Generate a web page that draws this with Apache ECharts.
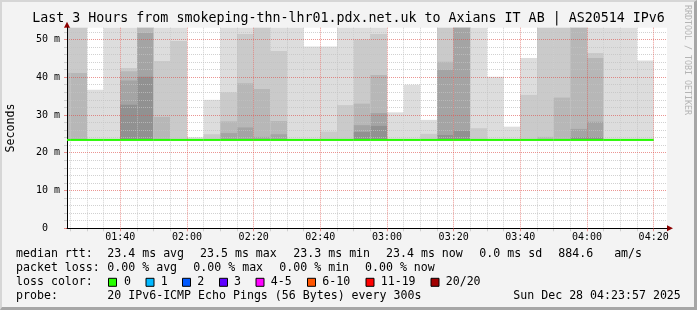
<!DOCTYPE html>
<html>
<head>
<meta charset="utf-8">
<script src="https://cdn.jsdelivr.net/npm/echarts@6/dist/echarts.min.js"></script>
<style>
html,body{margin:0;padding:0;background:#f3f3f3;}
#wrap{position:relative;width:697px;height:310px;}
#c{position:absolute;left:0;top:0;width:697px;height:310px;}
#frame{position:absolute;left:0;top:0;width:697px;height:310px;box-sizing:border-box;
  border-top:2px solid #d6d6d6;border-left:2px solid #d6d6d6;border-right:3px solid #a6a6a6;border-bottom:3px solid #a6a6a6;pointer-events:none;}
</style>
</head>
<body>
<div id="wrap"><div id="c"></div><div id="frame"></div></div>
<script>
// ---------------- data ----------------
const TITLE = 'Last 3 Hours from smokeping-thn-lhr01.pdx.net.uk to Axians IT AB | AS20514 IPv6';
const axisStart = '01:24';
const axisEnd = '04:24';
const yMax = 53.1;
const stepMinutes = 5;

// end time of each 5-minute slot
const slotEnd = ['01:25','01:30','01:35','01:40','01:45','01:50','01:55','02:00','02:05','02:10','02:15','02:20',
  '02:25','02:30','02:35','02:40','02:45','02:50','02:55','03:00','03:05','03:10','03:15','03:20',
  '03:25','03:30','03:35','03:40','03:45','03:50','03:55','04:00','04:05','04:10','04:15','04:20'];
// median rtt (ms)
const median = [23.4,23.4,23.4,23.4,23.4,23.4,23.4,23.4,23.4,23.4,23.4,23.4,
  23.4,23.4,23.4,23.4,23.4,23.4,23.4,23.4,23.4,23.4,23.4,23.4,
  23.4,23.4,23.4,23.4,23.4,23.4,23.4,23.4,23.4,23.4,23.4,23.4];
// lowest ping (ms)
const pingLow = [23.3,23.3,23.3,23.3,23.3,23.3,23.3,23.3,23.3,23.3,23.3,23.3,
  23.3,23.3,23.3,23.3,23.3,23.3,23.3,23.3,23.3,23.3,23.3,23.3,
  23.3,23.3,23.3,23.3,23.3,23.3,23.3,23.3,23.3,23.3,23.3,23.3];
// sorted pings: 20th (max), 19th, 18th, 17th, 16th  (ms); values above the plot are off-scale
const ping20 = [60,60,36.7,60,60,60,60,60,24.1,34.0,60,60,
  60,60,60,48.1,48.1,60,60,60,30.7,38.0,28.7,60,
  60,60,40.1,26.9,45.1,60,60,60,60,60,60,44.4];
const ping19 = [60,60,23.4,23.4,42.4,60,44.3,49.6,23.4,24.9,36.0,51.4,
  60,46.9,23.4,23.4,25.6,32.6,50.0,51.4,23.4,23.4,25.0,60,
  60,26.5,23.4,23.4,35.3,60,60,60,46.4,23.4,23.4,23.4];
const ping18 = [41.1,41.1,23.4,23.4,41.6,60,29.5,23.4,23.4,23.4,28.3,38.4,
  36.9,28.4,23.4,23.4,23.4,23.4,33.0,40.6,23.4,23.4,23.4,44.1,
  60,23.4,23.4,23.4,23.4,24.2,34.6,60,45.1,23.4,23.4,23.4];
const ping17 = [23.4,23.4,23.4,23.4,39.1,51.7,23.4,23.4,23.4,23.4,25.2,26.7,
  24.2,24.9,23.4,23.4,23.4,23.4,27.3,30.5,23.4,23.4,23.4,42.0,
  60,23.4,23.4,23.4,23.4,23.4,23.4,26.3,28.2,23.4,23.4,23.4];
const ping16 = [23.4,23.4,23.4,23.4,32.7,40.1,23.4,23.4,23.4,23.4,23.4,23.4,
  23.4,23.4,23.4,23.4,23.4,23.4,25.5,27.1,23.4,23.4,23.4,24.7,
  25.8,23.4,23.4,23.4,23.4,23.4,23.4,24.1,24.1,23.4,23.4,23.4];

const xTickEvery = 20;     // labelled / major grid minutes
const xMinorEvery = 5;     // minor grid minutes
const yTickLabels = {0: '0  ', 10: '10 m', 20: '20 m', 30: '30 m', 40: '40 m', 50: '50 m'};

const legendRows = [
  [['median rtt:', 16], ['23.4 ms avg', 107.3], ['23.5 ms max', 200], ['23.3 ms min', 293.3], ['23.4 ms now', 386], ['0.0 ms sd', 479.3], ['884.6   am/s', 558.3]],
  [['packet loss:', 16], ['0.00 % avg', 107.3], ['0.00 % max', 193.3], ['0.00 % min', 279.3], ['0.00 % now', 365]],
  [['loss color:', 16]],
  [['probe:', 16], ['20 IPv6-ICMP Echo Pings (56 Bytes) every 300s', 107.3], ['Sun Dec 28 04:23:57 2025', 513.3]]
];
const lossLabels = ['0', '1', '2', '3', '4-5', '6-10', '11-19', '20/20'];
const lossColors = ['#26ff00', '#00b8ff', '#0059ff', '#5e00ff', '#ff00ff', '#ff5500', '#ff0000', '#a10000'];

// ---------------- styling ----------------
const MONO = 'DejaVu Sans Mono';
const GRID_C = 'rgba(193,193,193,0.75)';
const MGRID_C = 'rgba(222,79,74,0.6)';
const ARROW_C = '#8b0000';
const bandColors = ['#dddddd', '#cacaca', '#b7b7b7', '#a4a4a4', '#919191'];
const legendX = {boxes: [108.5, 146, 182.5, 219.5, 256, 307.5, 366, 431], labels: [124, 160.7, 197.3, 234, 270.7, 322.3, 380.7, 445.7]};
const legendY = [254.3, 267.7, 282.3, 295.7];

// ---------------- build ----------------
function toMin(s) { const p = s.split(':'); return (+p[0]) * 60 + (+p[1]); }
function fmt(m) { const h = Math.floor(m / 60), mm = m % 60; return (h < 10 ? '0' : '') + h + ':' + (mm < 10 ? '0' : '') + mm; }
const m0 = toMin(axisStart), m1 = toMin(axisEnd);
const cats = [];
for (let m = m0; m <= m1; m++) cats.push(fmt(m));
const isMajor = (i) => (m0 + i) % xTickEvery === 0;
const isMinor = (i) => (m0 + i) % xMinorEvery === 0 && (m0 + i) % xTickEvery !== 0;

const smokeData = slotEnd.map((e, i) => {
  const end = toMin(e) - m0;
  return [end - stepMinutes, end, pingLow[i], ping20[i], ping19[i], ping18[i], ping17[i], ping16[i]];
});
const medianData = slotEnd.map((e, i) => {
  const end = toMin(e) - m0;
  return [end - stepMinutes, end, median[i]];
});

function renderSmoke(params, api) {
  const cs = params.coordSys;
  const x0 = api.value(0), x1 = api.value(1), low = api.value(2);
  const children = [];
  for (let k = 0; k < 5; k++) {
    const top = api.value(3 + k);
    const a = api.coord([x0, low]);
    const b = api.coord([x1, top]);
    const r = echarts.graphic.clipRectByRect(
      {x: a[0], y: b[1], width: b[0] - a[0], height: a[1] - b[1]},
      {x: cs.x, y: cs.y, width: cs.width, height: cs.height});
    if (r && r.height > 0 && r.width > 0) children.push({type: 'rect', shape: r, style: {fill: bandColors[k]}});
  }
  return {type: 'group', children};
}
function renderMedian(params, api) {
  const cs = params.coordSys;
  const a = api.coord([api.value(0), api.value(2)]);
  const b = api.coord([api.value(1), api.value(2)]);
  const xa = Math.max(a[0], cs.x), xb = Math.min(b[0], cs.x + cs.width);
  return {type: 'line', shape: {x1: xa, y1: a[1], x2: xb, y2: b[1]}, style: {stroke: lossColors[0], lineWidth: 2}};
}

const graphics = [];
legendRows.forEach((row, r) => {
  row.forEach(([t, x]) => graphics.push({type: 'text', x: x, y: legendY[r],
    style: {text: t, fontFamily: MONO, fontSize: 11.6, fill: '#000', verticalAlign: 'middle'}}));
});
lossLabels.forEach((t, i) => {
  graphics.push({type: 'rect', shape: {x: legendX.boxes[i], y: legendY[2] - 4, width: 8, height: 8},
    style: {fill: lossColors[i], stroke: '#000', lineWidth: 1}});
  graphics.push({type: 'text', x: legendX.labels[i], y: legendY[2],
    style: {text: t, fontFamily: MONO, fontSize: 11.6, fill: '#000', verticalAlign: 'middle'}});
});
graphics.push({type: 'text', x: 687.5, y: 60, rotation: -Math.PI / 2,
  style: {text: 'RRDTOOL / TOBI OETIKER', fontFamily: MONO, fontSize: 8.3, fill: '#b4b4b4', align: 'center', verticalAlign: 'middle'}});

const chart = echarts.init(document.getElementById('c'), null, {renderer: 'canvas'});
chart.setOption({
  backgroundColor: '#f3f3f3',
  animation: false,
  title: {text: TITLE, left: 'center', top: 12, padding: 0,
    textStyle: {fontFamily: MONO, fontSize: 13.3, fontWeight: 'normal', color: '#000'}},
  grid: {left: 67, right: 30, top: 27.7, bottom: 81.7, show: true, backgroundColor: '#ffffff', borderWidth: 0,
    containLabel: false, outerBoundsMode: 'none'},
  xAxis: [
    {type: 'category', data: cats, boundaryGap: false, position: 'bottom', z: 5,
      axisLine: {show: true, onZero: false, lineStyle: {color: '#000', width: 1}},
      axisTick: {show: true, interval: isMajor, length: 3, lineStyle: {color: MGRID_C}},
      axisLabel: {show: true, interval: isMajor, margin: 4, fontFamily: MONO, fontSize: 10, color: '#000'},
      splitLine: {show: true, interval: isMajor, lineStyle: {color: MGRID_C, width: 1, type: [1, 1]}}},
    {type: 'category', data: cats, boundaryGap: false, position: 'bottom', z: 4,
      axisLine: {show: true, onZero: false, symbol: ['none', 'triangle'], symbolSize: [6, 6], symbolOffset: [0, 3], lineStyle: {color: ARROW_C, width: 1}},
      axisTick: {show: true, interval: isMinor, length: 3, lineStyle: {color: GRID_C}},
      axisLabel: {show: false},
      splitLine: {show: true, interval: isMinor, lineStyle: {color: GRID_C, width: 1, type: [1, 1]}}}
  ],
  yAxis: [
    {type: 'value', min: 0, max: yMax, interval: 10, z: 5,
      axisLine: {show: true, onZero: false, lineStyle: {color: '#000', width: 1}},
      axisTick: {show: true, length: 3, lineStyle: {color: MGRID_C}},
      minorTick: {show: true, splitNumber: 5, length: 3, lineStyle: {color: GRID_C}},
      axisLabel: {margin: 7, fontFamily: MONO, fontSize: 10, color: '#000',
        formatter: (v) => (yTickLabels[v] !== undefined ? yTickLabels[v] : '')},
      splitLine: {show: true, showMinLine: false, showMaxLine: false, lineStyle: {color: MGRID_C, width: 1, type: [1, 1]}},
      minorSplitLine: {show: true, lineStyle: {color: GRID_C, width: 1, type: [1, 1]}},
      name: 'Seconds', nameLocation: 'middle', nameGap: 50.5, nameRotate: 90,
      nameTextStyle: {fontFamily: MONO, fontSize: 11.6, color: '#000'}},
    {type: 'value', min: 0, max: yMax, interval: 10, z: 4, position: 'left',
      axisLine: {show: true, onZero: false, symbol: ['none', 'triangle'], symbolSize: [6, 6], symbolOffset: [0, 3], lineStyle: {color: ARROW_C, width: 1}},
      axisTick: {show: false}, axisLabel: {show: false}, splitLine: {show: false}}
  ],
  series: [
    {type: 'custom', name: 'smoke', xAxisIndex: 0, yAxisIndex: 0, z: 2, silent: true,
      renderItem: renderSmoke, data: smokeData, encode: {x: [0, 1], y: [2, 3, 4, 5, 6, 7]}},
    {type: 'custom', name: 'median rtt', xAxisIndex: 0, yAxisIndex: 0, z: 8, silent: true,
      renderItem: renderMedian, data: medianData, encode: {x: [0, 1], y: [2]}}
  ],
  graphic: graphics
});
</script>
</body>
</html>
